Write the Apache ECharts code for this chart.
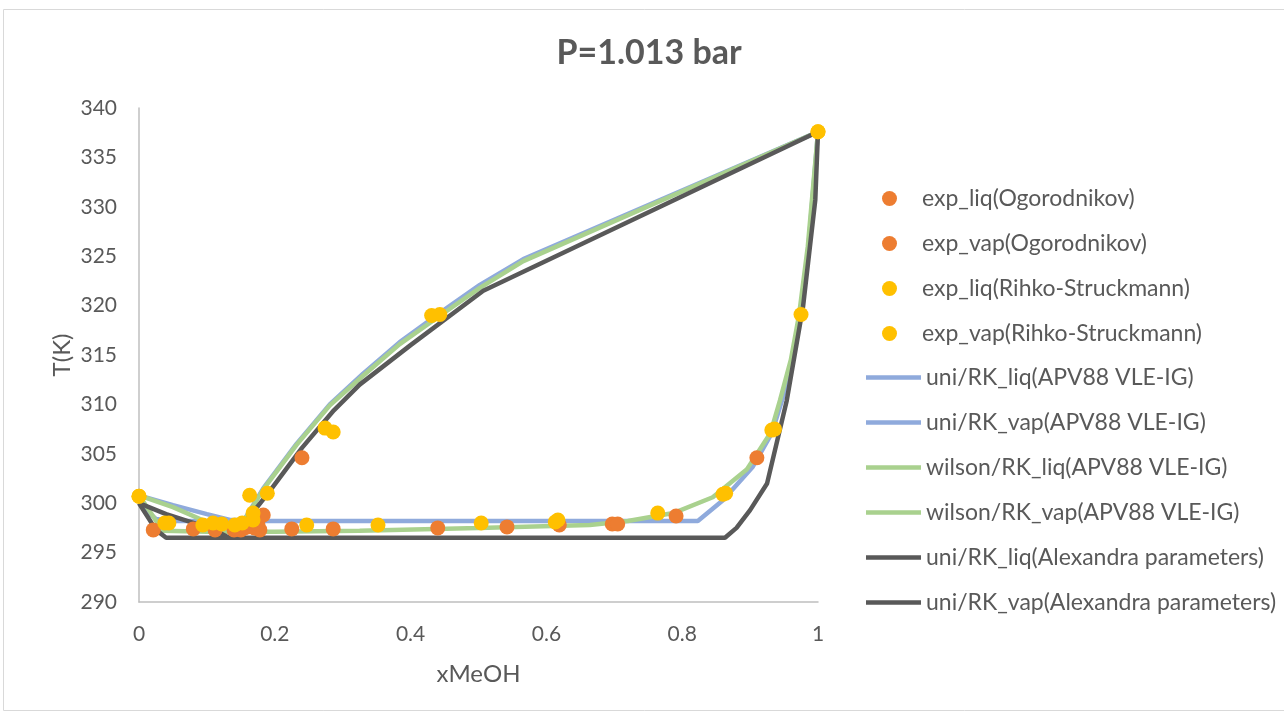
<!DOCTYPE html>
<html>
<head>
    <meta charset="utf-8">
    <script src="https://cdn.jsdelivr.net/npm/echarts@6/dist/echarts.min.js"></script>
    <style>
        html, body { margin: 0; padding: 0; background: #fff; }
    </style>
</head>
<body>
    <div id="main" style="width: 1284px; height: 715px"></div>
    <script type="text/javascript">
        // experimental points [xMeOH, T(K)]
        var expLiqOgo = [[0.021,297.3],[0.08,297.4],[0.112,297.3],[0.225,297.4],[0.286,297.4],[0.44,297.5],
            [0.542,297.6],[0.619,297.8],[0.697,297.9],[0.705,297.9],[0.791,298.7],[0.91,304.6]];
        var expVapOgo = [[0.14,297.3],[0.145,297.4],[0.15,297.3],[0.155,297.5],[0.148,297.6],[0.178,297.3],
            [0.16,297.6],[0.165,297.7],[0.17,297.5],[0.175,297.9],[0.183,298.8],[0.24,304.6]];
        var expLiqRihko = [[0,300.7],[0.044,298.0],[0.094,297.8],[0.122,297.9],[0.247,297.8],[0.352,297.8],
            [0.504,298.0],[0.613,298.1],[0.617,298.3],[0.764,299.0],[0.86,300.9],[0.864,301.0],
            [0.932,307.4],[0.936,307.5],[0.975,319.1],[1,337.6]];
        var expVapRihko = [[0,300.7],[0.038,298.0],[0.109,298.0],[0.141,297.8],[0.152,298.0],[0.168,298.3],
            [0.168,299.0],[0.163,300.8],[0.189,301.0],[0.274,307.6],[0.286,307.2],[0.431,319.0],
            [0.443,319.1],[1,337.6]];

        // model curves
        var uniLiqApv = [[0,300.8],[0.01,299.3],[0.025,298.4],[0.05,298.2],[0.2,298.2],[0.4,298.2],[0.6,298.2],
            [0.823,298.2],[0.86,300.3],[0.904,303.7],[0.932,307.1],[0.947,310.4],[0.962,314],[0.974,319],
            [0.986,326],[1,337.6]];
        var uniVapApv = [[0,300.8],[0.05,299.8],[0.1,298.9],[0.134,298.3],[0.155,298.3],[0.183,301.5],
            [0.232,306.0],[0.281,310.0],[0.33,313.1],[0.384,316.3],[0.45,319.6],[0.502,322.1],
            [0.566,324.7],[1,337.6]];
        var wilLiqApv = [[0,300.8],[0.035,297.2],[0.1,297.1],[0.2,297.1],[0.325,297.2],[0.5,297.5],
            [0.664,297.8],[0.72,298.2],[0.787,299],[0.845,300.6],[0.895,303.4],[0.93,307.1],
            [0.944,310.4],[0.96,314.5],[0.972,319],[0.985,326],[1,337.6]];
        var wilVapApv = [[0,300.8],[0.05,299.6],[0.1,298.1],[0.13,297.4],[0.145,297.3],[0.16,298.8],
            [0.183,301.4],[0.232,305.9],[0.281,309.9],[0.33,312.9],[0.384,316.1],[0.45,319.3],
            [0.502,321.8],[0.566,324.5],[1,337.6]];
        var uniLiqAlex = [[0,300.0],[0.025,297.3],[0.04,296.5],[0.3,296.5],[0.6,296.5],[0.863,296.5],
            [0.88,297.5],[0.9,299.3],[0.925,302],[0.954,310.4],[0.978,319.9],[0.996,330.7],[1,337.6]];
        var uniVapAlex = [[0,300.0],[0.04,298.9],[0.08,298.0],[0.11,297.3],[0.13,296.6],[0.14,296.6],
            [0.16,298.4],[0.19,301.0],[0.24,305.6],[0.287,309.4],[0.325,312.0],[0.4,316.0],
            [0.507,321.5],[1,337.6]];

        var dotNames = ['exp_liq(Ogorodnikov)', 'exp_vap(Ogorodnikov)', 'exp_liq(Rihko-Struckmann)',
            'exp_vap(Rihko-Struckmann)'];
        var lineNames = ['uni/RK_liq(APV88 VLE-IG)', 'uni/RK_vap(APV88 VLE-IG)',
            'wilson/RK_liq(APV88 VLE-IG)', 'wilson/RK_vap(APV88 VLE-IG)',
            'uni/RK_liq(Alexandra parameters)', 'uni/RK_vap(Alexandra parameters)'];

        var font = 'Lato';
        var txt = '#595959';

        function lineSerie(name, data, color, z) {
            return {
                name: name, type: 'line', data: data, showSymbol: false, symbol: 'none',
                lineStyle: { color: color, width: 4.5 }, itemStyle: { color: color },
                z: z
            };
        }
        function dotSerie(name, data, color, z) {
            return {
                name: name, type: 'scatter', data: data, symbolSize: 15,
                itemStyle: { color: color, opacity: 1 }, z: z
            };
        }

        var legendText = { fontFamily: font, fontSize: 23, color: txt };

        var myChart = echarts.init(document.getElementById('main'));
        var option = {
            animation: false,
            textStyle: { fontFamily: font },
            title: {
                text: 'P=1.013 bar', left: 644, textAlign: 'center', top: 31,
                textStyle: { fontFamily: font, fontSize: 34, fontWeight: 'bold', color: txt }
            },
            graphic: [{
                type: 'rect', shape: { x: 3.5, y: 9.5, width: 1290, height: 701 },
                style: { fill: 'none', stroke: '#d9d9d9', lineWidth: 1 }, silent: true
            }],
            legend: [{
                orient: 'vertical', left: 877, top: 182, itemWidth: 55, itemHeight: 15, itemGap: 22,
                icon: 'circle', data: dotNames, textStyle: legendText
            }, {
                orient: 'vertical', left: 861, top: 361, itemWidth: 55, itemHeight: 4.5, itemGap: 22,
                icon: 'rect', data: lineNames, textStyle: legendText
            }],
            grid: { left: 139, right: 466, top: 108, bottom: 113 },
            xAxis: {
                type: 'value', min: 0, max: 1, interval: 0.2,
                name: 'xMeOH', nameLocation: 'middle', nameGap: 60, nameMoveOverlap: false,
                nameTextStyle: { fontFamily: font, fontSize: 24, color: txt },
                axisLine: { show: true, lineStyle: { color: '#bfbfbf', width: 1.5 } },
                axisTick: { show: false }, splitLine: { show: false },
                axisLabel: { fontFamily: font, fontSize: 21, color: txt, margin: 22 }
            },
            yAxis: {
                type: 'value', min: 290, max: 340, interval: 5,
                name: 'T(K)', nameLocation: 'middle', nameGap: 65, nameRotate: 90, nameMoveOverlap: false,
                nameTextStyle: { fontFamily: font, fontSize: 24, color: txt },
                axisLine: { show: true, lineStyle: { color: '#bfbfbf', width: 1.5 } },
                axisTick: { show: false }, splitLine: { show: false },
                axisLabel: { fontFamily: font, fontSize: 21, color: txt, margin: 22 }
            },
            series: [
                lineSerie(lineNames[0], uniLiqApv, '#8faadc', 2),
                lineSerie(lineNames[1], uniVapApv, '#8faadc', 2),
                lineSerie(lineNames[2], wilLiqApv, '#a9d18e', 3),
                lineSerie(lineNames[3], wilVapApv, '#a9d18e', 3),
                lineSerie(lineNames[4], uniLiqAlex, '#595959', 4),
                lineSerie(lineNames[5], uniVapAlex, '#595959', 4),
                dotSerie(dotNames[0], expLiqOgo, '#ed7d31', 5),
                dotSerie(dotNames[1], expVapOgo, '#ed7d31', 5),
                dotSerie(dotNames[2], expLiqRihko, '#ffc000', 6),
                dotSerie(dotNames[3], expVapRihko, '#ffc000', 6)
            ]
        };
        myChart.setOption(option);
    </script>
</body>
</html>
